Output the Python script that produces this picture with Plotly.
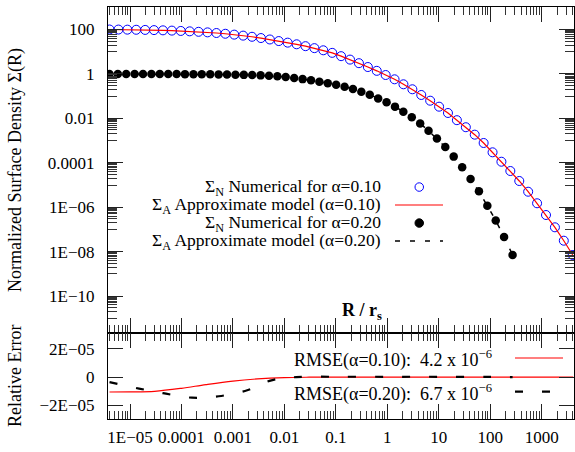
import plotly.graph_objects as go

# ---------------- data ----------------
# alpha = 0.10 : numerical surface density (open blue circles) / approximate model (red line)
R_10 = [4.00e-6, 5.96e-6, 8.88e-6, 1.32e-5, 1.97e-5, 2.93e-5, 4.37e-5, 6.51e-5, 9.70e-5, 1.445e-4,
        2.15e-4, 3.21e-4, 4.78e-4, 7.12e-4, 1.06e-3, 1.58e-3, 2.35e-3, 3.50e-3, 5.22e-3, 7.78e-3,
        1.16e-2, 1.73e-2, 2.57e-2, 3.83e-2, 5.70e-2, 8.50e-2, 0.1265, 0.1887, 0.281, 0.419,
        0.624, 0.929, 1.384, 2.06, 3.07, 4.57, 6.81, 10.15, 15.1, 22.5,
        33.6, 50.0, 74.5, 111.0, 165.0, 246.0, 367.0, 546.0, 814.0, 1213.0,
        1807.0, 2692.0, 4010.0]
sigma_N10 = [100.0, 99.5, 98.5, 97.3, 95.8, 94.0, 91.8, 89.2, 86.2, 82.7,
             78.8, 74.4, 69.6, 64.4, 58.8, 53.0, 47.1, 41.3, 35.6, 30.2,
             25.6, 21.6, 17.8, 14.5, 11.6, 8.9, 6.31, 4.42, 3.05, 2.05,
             1.38, 0.895, 0.574, 0.342, 0.204, 0.113, 0.0625, 0.0336, 0.0175, 0.0083,
             0.0040, 0.00185, 7.8e-4, 2.97e-4, 1.12e-4, 4.28e-5, 1.52e-5, 5.0e-6, 1.51e-6, 4.48e-7,
             1.25e-7, 3.12e-8, 7.1e-9]
sigma_A10 = sigma_N10  # model agrees with numerics to ~1e-5 (indistinguishable here)

# alpha = 0.20 : numerical (filled black circles) / approximate model (black dashed)
R_20 = [3.98e-6, 5.80e-6, 8.44e-6, 1.23e-5, 1.79e-5, 2.61e-5, 3.79e-5, 5.52e-5, 8.05e-5, 1.17e-4,
        1.71e-4, 2.48e-4, 3.62e-4, 5.27e-4, 7.67e-4, 1.12e-3, 1.63e-3, 2.37e-3, 3.45e-3, 5.02e-3,
        7.31e-3, 1.06e-2, 1.55e-2, 2.26e-2, 3.29e-2, 4.79e-2, 6.97e-2, 0.1014, 0.148, 0.215,
        0.313, 0.456, 0.664, 0.968, 1.41, 2.05, 2.99, 4.35, 6.33, 9.22,
        13.4, 19.5, 28.5, 41.5, 60.4, 87.9, 128.0, 186.0, 272.0]
sigma_N20 = [1.0, 1.0, 0.999, 0.998, 0.997, 0.995, 0.993, 0.990, 0.986, 0.981,
             0.975, 0.968, 0.960, 0.950, 0.939, 0.925, 0.908, 0.888, 0.862, 0.826,
             0.778, 0.722, 0.655, 0.585, 0.516, 0.450, 0.385, 0.324, 0.266, 0.209,
             0.158, 0.115, 0.0794, 0.0532, 0.0338, 0.0201, 0.01125, 0.00592, 0.00278, 0.00124,
             5.13e-4, 1.90e-4, 6.26e-5, 1.88e-5, 5.21e-6, 1.18e-6, 2.55e-7, 4.61e-8, 7.15e-9]
sigma_A20 = sigma_N20

# relative error panel
R_err10 = [4e-6, 1e-5, 3e-5, 1e-4, 3e-4, 1e-3, 3e-3, 1e-2, 3e-2, 0.1, 1, 10, 100, 1000, 4100]
err_10 = [-1.05e-5, -1.04e-5, -1.0e-5, -7.9e-6, -5.3e-6, -2.8e-6, -1.3e-6, -4e-7, -1e-7, 0, 0, 0, 0, 0, 0]
R_err20 = [4e-6, 1.5e-5, 5e-5, 1.6e-4, 5.3e-4, 1.9e-3, 5.6e-3, 1.7e-2, 0.1, 1, 10, 100, 272]
err_20 = [-3.6e-6, -8.1e-6, -1.17e-5, -1.45e-5, -1.35e-5, -9.3e-6, -2.3e-6, 0, 2e-7, 2e-7, 2e-7, 1e-7, 0]

rmse_labels = ["RMSE(α=0.10):\u00a0\u00a04.2 x 10<sup>−6</sup>",
               "RMSE(α=0.20):\u00a0\u00a06.7 x 10<sup>−6</sup>"]
legend_labels = ["Σ<sub>N</sub> Numerical for α=0.10",
                 "Σ<sub>A</sub> Approximate model (α=0.10)",
                 "Σ<sub>N</sub> Numerical for α=0.20",
                 "Σ<sub>A</sub> Approximate model (α=0.20)"]

# tick labels
x_tickvals = [1e-5, 1e-4, 1e-3, 1e-2, 1e-1, 1, 10, 100, 1000]
x_ticktext = ["1E−05", "0.0001", "0.001", "0.01", "0.1", "1", "10", "100", "1000"]
y_tickvals = [1e-10, 1e-8, 1e-6, 1e-4, 1e-2, 1, 100]
y_ticktext = ["1E−10", "1E−08", "1E−06", "0.0001", "0.01", "1", "100"]
y2_tickvals = [-2e-5, 0, 2e-5]
y2_ticktext = ["−2E−05", "0", "2E−05"]

# ---------------- layout helpers ----------------
W, H = 575, 452
L, R, T, B = 108, 1, 7, 33
PW, PH = W - L - R, H - T - B
def px(x):
    return (x - L) / PW
def py(y):
    return (H - B - y) / PH
split = py(333)

FONT = "Liberation Serif"

x_minor = [m * 10.0 ** e for e in range(-6, 4) for m in range(2, 10)]
y_minor = [m * 10.0 ** e for e in range(-11, 2, 2) for m in range(1, 10)]

fig = go.Figure()
fig.add_trace(go.Scatter(x=R_10, y=sigma_N10, mode="markers", xaxis="x", yaxis="y",
                         marker=dict(symbol="circle-open", size=9, color="#0000ff",
                                     line=dict(width=1, color="#0000ff")),
                         showlegend=False))
fig.add_trace(go.Scatter(x=R_10, y=sigma_A10, mode="lines", xaxis="x", yaxis="y",
                         line=dict(color="#ff0000", width=1.2), showlegend=False))
fig.add_trace(go.Scatter(x=R_20, y=sigma_N20, mode="markers", xaxis="x", yaxis="y",
                         marker=dict(symbol="circle", size=8.5, color="black"),
                         showlegend=False))
fig.add_trace(go.Scatter(x=R_20, y=sigma_A20, mode="lines", xaxis="x", yaxis="y",
                         line=dict(color="black", width=1.5, dash="5px,9px"), showlegend=False))
fig.add_trace(go.Scatter(x=R_err10, y=err_10, mode="lines", xaxis="x2", yaxis="y2",
                         line=dict(color="#ff0000", width=1.2, shape="spline"), showlegend=False))
fig.add_trace(go.Scatter(x=R_err20, y=err_20, mode="lines", xaxis="x2", yaxis="y2",
                         line=dict(color="black", width=2.2, dash="8px,19px", shape="spline"),
                         showlegend=False))

xcommon = dict(type="log", range=[-5.4275, 3.628], showline=True, mirror="ticks",
               linecolor="black", linewidth=1, ticks="inside", ticklen=15, tickwidth=1,
               tickcolor="#222", showgrid=False, zeroline=False, tickmode="array",
               tickvals=x_tickvals, ticktext=x_ticktext,
               minor=dict(ticks="inside", ticklen=8, tickwidth=1, tickcolor="#333",
                          tickmode="array", tickvals=x_minor, showgrid=False))

fig.update_layout(
    width=W, height=H, margin=dict(l=L, r=R, t=T, b=B),
    paper_bgcolor="white", plot_bgcolor="white",
    font=dict(family=FONT, size=17, color="black"),
    xaxis=dict(**xcommon, domain=[0, 1], anchor="y", showticklabels=False),
    xaxis2=dict(**xcommon, domain=[0, 1], anchor="y2", showticklabels=True,
                tickfont=dict(family=FONT, size=17, color="black"), ticklabelstandoff=3),
    yaxis=dict(type="log", range=[-11.66, 3.013], domain=[split, 1], anchor="x",
               showline=True, mirror="ticks", linecolor="black", linewidth=1,
               ticks="inside", ticklen=15, tickcolor="#222", showgrid=False, zeroline=False,
               tickmode="array", tickvals=y_tickvals, ticktext=y_ticktext,
               tickfont=dict(family=FONT, size=17, color="black"), ticklabelstandoff=9,
               minor=dict(ticks="inside", ticklen=9, tickwidth=1, tickcolor="#333",
                          tickmode="array", tickvals=y_minor, showgrid=False)),
    yaxis2=dict(range=[-2.95e-5, 3.1e-5], domain=[0, split], anchor="x2",
                showline=True, mirror="ticks", linecolor="black", linewidth=1,
                ticks="inside", ticklen=15, tickcolor="#222", showgrid=False, zeroline=False,
                tickmode="array", tickvals=y2_tickvals, ticktext=y2_ticktext,
                tickfont=dict(family=FONT, size=17, color="black"), ticklabelstandoff=9),
)

ann = []
ann.append(dict(text="Normalized Surface Density Σ(R)", x=px(15), y=py(170), textangle=-90,
                font=dict(family=FONT, size=18)))
ann.append(dict(text="Relative Error", x=px(15), y=py(376), textangle=-90,
                font=dict(family=FONT, size=18)))
ann.append(dict(text="<b>R / r<sub>s</sub></b>", x=px(362), y=py(311),
                font=dict(family=FONT, size=18)))
for lab, yy in zip(legend_labels, [187, 205, 223, 241]):
    ann.append(dict(text=lab, x=px(383), y=py(yy), xanchor="right",
                    font=dict(family=FONT, size=17.5)))
for lab, yy in zip(rmse_labels, [359, 393]):
    ann.append(dict(text=lab, x=px(292), y=py(yy), xanchor="left",
                    font=dict(family=FONT, size=18)))
for a in ann:
    a.update(xref="paper", yref="paper", showarrow=False)
    a.setdefault("xanchor", "center")
    a["yanchor"] = "middle"
fig.update_layout(annotations=ann)

shapes = [
    dict(type="circle", x0=px(415), x1=px(423.5), y0=py(191.3), y1=py(182.8),
         line=dict(color="#0000ff", width=1)),
    dict(type="line", x0=px(395), x1=px(443), y0=py(205), y1=py(205),
         line=dict(color="#ff0000", width=1.2)),
    dict(type="circle", x0=px(415), x1=px(423.5), y0=py(227.3), y1=py(218.8),
         line=dict(color="black", width=1), fillcolor="black"),
    dict(type="line", x0=px(395), x1=px(443), y0=py(241), y1=py(241),
         line=dict(color="black", width=1.5, dash="5px,10px")),
    dict(type="line", x0=px(515), x1=px(563), y0=py(358), y1=py(358),
         line=dict(color="#ff0000", width=1.2)),
    dict(type="line", x0=px(515), x1=px(563), y0=py(391.7), y1=py(391.7),
         line=dict(color="black", width=2.2, dash="8px,19px")),
]
for s in shapes:
    s.update(xref="paper", yref="paper")
fig.update_layout(shapes=shapes)

fig.write_html("out.html", config={"displayModeBar": False},
               post_script="document.body.style.margin='0';document.body.style.padding='0';")
